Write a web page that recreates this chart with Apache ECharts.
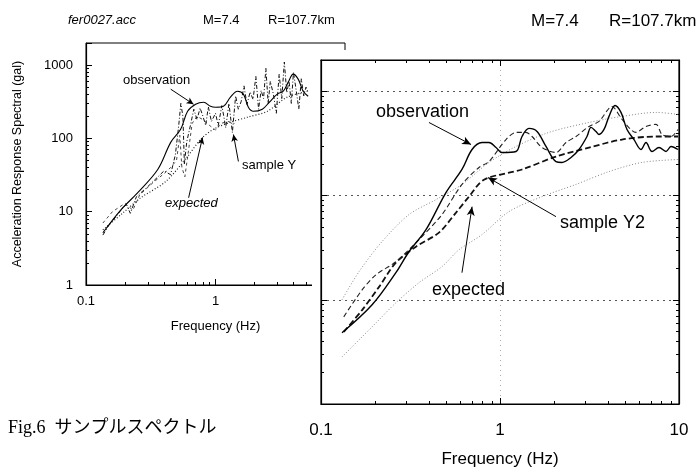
<!DOCTYPE html>
<html><head><meta charset="utf-8">
<script src="https://cdn.jsdelivr.net/npm/echarts/dist/echarts.min.js"></script>
<style>html,body{margin:0;padding:0;background:#fff}#c{width:698px;height:473px}</style>
</head><body><div id="c"></div>
<script>
// ---------------- DATA ----------------
// Left (small) panel: frequency (Hz) / spectral acceleration (gal)
const leftObsF = [0.135,0.186,0.251,0.358,0.451,0.538,0.609,0.702,0.809,0.915,1.0,1.152,1.304,1.477,1.642,1.794,1.960,2.299,2.603,2.999,3.336,3.644,3.981,4.351,4.753,5.194];
const leftObsV = [5.16,10.6,18.2,37.6,88.2,133,234,292,311,274,266,274,365,440,401,266,234,250,311,401,440,585,753,643,440,376];
const leftExpF = [0.135,0.186,0.265,0.413,0.609,0.767,0.965,1.304,1.763,2.512,3.580,5.194];
const leftExpV = [5.67,9.10,15.5,25.8,56.7,96.9,133,166,194,234,365,440];
const leftSampF = [0.135,0.15,0.17,0.19,0.205,0.22,0.245,0.30,0.36,0.40,0.45,0.49,0.52,0.54,0.56,0.575,0.60,0.64,0.68,0.72,0.76,0.80,0.84,0.88,0.93,1.00,1.05,1.12,1.20,1.27,1.35,1.43,1.50,1.58,1.66,1.75,1.85,1.95,2.05,2.15,2.25,2.35,2.45,2.55,2.65,2.80,2.95,3.10,3.25,3.40,3.55,3.70,3.85,4.00,4.20,4.40,4.60,4.80,5.00,5.20];
const leftSampV = [4.8,6.5,8.5,11,12.5,9.5,16,22,30,36,32,60,150,300,200,45,90,150,250,180,260,200,150,270,170,220,150,280,140,300,120,380,250,320,520,290,430,340,700,250,450,350,900,300,600,400,220,750,350,1100,420,600,300,800,450,250,650,380,500,420];
const leftSamp2F = [0.135,0.16,0.2,0.23,0.26,0.33,0.40,0.45,0.50,0.53,0.55,0.58,0.62,0.66,0.72,0.80,0.90,1.0,1.1,1.25,1.4];
const leftSamp2V = [7,10,13,10.5,17,25,33,40,50,110,40,30,70,160,200,180,150,130,160,170,160];

// Right (large) panel
const rObsF = [0.131,0.193,0.262,0.310,0.386,0.499,0.613,0.698,0.793,0.868,0.950,1.026,1.229,1.327,1.452,1.610,1.807,2.055,2.220,2.493,2.763,3.062,3.224,3.438,3.574,3.811,4.064,4.390,4.742,5.123,5.606,6.134,6.541,7.067,7.732,8.462,9.024,9.872];
const rObsV = [4.82,8.95,18.2,28.9,47.1,107,178,277,323,323,289,259,265,369,441,412,296,212,208,232,277,369,451,412,386,431,575,733,628,431,345,277,323,265,289,265,296,277];
const rUpF = [0.131,0.163,0.219,0.310,0.439,0.613,0.868,1.229,1.878,3.142,4.804,7.440,9.872];
const rUpV = [10.0,18.6,36.1,65.7,91.5,128,208,296,404,503,575,628,601];
const rLoF = [0.131,0.163,0.203,0.262,0.353,0.474,0.590,0.793,1.123,1.717,2.658,4.064,6.213,9.872];
const rLoV = [2.83,4.12,6.01,9.36,14.6,20.8,30.2,42.2,70.2,97.7,128,170,208,222];
const rExpF = [0.134,0.170,0.211,0.262,0.339,0.456,0.568,0.671,0.814,1.327,2.055,3.142,4.804,7.440,9.872];
const rExpV = [4.92,8.01,13.3,22.7,32.3,44.1,68.7,97.7,142,178,237,289,345,369,369];
const rSampF = [0.134,0.170,0.203,0.262,0.353,0.474,0.613,0.763,0.868,1.080,1.229,1.397,1.510,1.717,2.055,2.337,2.658,3.142,3.574,4.224,4.804,5.753,6.541,7.440,8.035,9.024,9.872];
const rSampV = [6.86,12.5,17.4,23.2,37.8,65.7,128,186,212,345,404,404,369,289,259,323,369,461,515,717,538,404,461,482,386,369,431];

// Annotation arrows (data coords: [from, to])
const arrowLeftObs = [[0.451,469],[0.677,292]];
const arrowLeftSamp = [[1.503,48.4],[1.375,113]];
const arrowLeftExp = [[0.620,15.5],[0.794,103]];
const arrowRightObs = [[0.401,503],[0.689,309]];
const arrowRightSamp = [[2.055,62.8],[0.857,149]];
const arrowRightExp = [[0.613,18.2],[0.698,78.3]];

const xTicks = [0.1, 1, 10];
const yTicks = [1, 10, 100, 1000];

// ---------------- CHART ----------------
const pts = (f, v) => f.map((x, i) => [x, v[i]]);
const SANS = "'Liberation Sans', Arial, sans-serif";
const fmt = v => { const l = Math.log10(v); return Math.abs(l - Math.round(l)) < 1e-6 ? String(Number(v.toPrecision(6))) : ''; };
function arrowML(a, sz, z) {
  return { silent: true, z: z, symbol: ['none', 'arrow'], symbolSize: sz, animation: false,
    label: { show: false }, lineStyle: { color: '#000', width: 1, type: 'solid' },
    emphasis: { disabled: true },
    data: [[{ coord: a[0] }, { coord: a[1] }]] };
}
const chart = echarts.init(document.getElementById('c'), null, { renderer: 'canvas' });
const axBase = (extra) => Object.assign({
  type: 'log', logBase: 10,
  axisLine: { show: true, lineStyle: { color: '#000', width: 1.2 } },
  axisTick: { show: true, inside: true, length: 6, lineStyle: { color: '#000' } },
  minorTick: { show: true, splitNumber: 9, length: 3, lineStyle: { color: '#000' } },
  splitLine: { show: false },
  axisLabel: { show: false }
}, extra);

chart.setOption({
  animation: false,
  backgroundColor: '#fff',
  grid: [
    { left: 86, top: 43, width: 259, height: 242, show: true, borderColor: '#000', borderWidth: 1, backgroundColor: 'transparent', z: 0 },
    { left: 321, top: 60, width: 358, height: 344, show: true, borderColor: '#000', borderWidth: 1.2, backgroundColor: 'transparent', z: 50 }
  ],
  xAxis: [
    axBase({ gridIndex: 0, min: 0.1, max: 10, position: 'bottom',
      axisLabel: { show: true, fontSize: 13, color: '#000', fontFamily: SANS, margin: 10, formatter: fmt },
      name: 'Frequency (Hz)', nameLocation: 'middle', nameGap: 35,
      nameTextStyle: { fontSize: 13, color: '#000', fontFamily: SANS } }),
    axBase({ gridIndex: 1, min: 0.1, max: 10, position: 'bottom', z: 50,
      axisLabel: { show: true, fontSize: 17, color: '#000', fontFamily: SANS, margin: 18, formatter: fmt },
      splitLine: { show: true, lineStyle: { color: '#aaa', type: [1, 4], width: 1 } },
      name: 'Frequency (Hz)', nameLocation: 'middle', nameGap: 47,
      nameTextStyle: { fontSize: 17, color: '#000', fontFamily: SANS } }),
    axBase({ gridIndex: 1, min: 0.1, max: 10, position: 'top', z: 50 })
  ],
  yAxis: [
    axBase({ gridIndex: 0, min: 1, max: 2000, position: 'left',
      axisLabel: { show: true, fontSize: 13, color: '#000', fontFamily: SANS, margin: 13, formatter: fmt, showMaxLabel: false },
      name: 'Acceleration Response Spectral (gal)', nameLocation: 'middle', nameGap: 62,
      nameTextStyle: { fontSize: 12.5, color: '#000', fontFamily: SANS } }),
    axBase({ gridIndex: 1, min: 1, max: 2000, position: 'left', z: 50,
      splitLine: { show: true, lineStyle: { color: '#555', type: [2, 4], width: 1 } } }),
    axBase({ gridIndex: 1, min: 1, max: 2000, position: 'right', z: 50 })
  ],
  series: [
    // left panel
    { type: 'line', xAxisIndex: 0, yAxisIndex: 0, data: pts(leftSamp2F, leftSamp2V), showSymbol: false, z: 2,
      lineStyle: { color: '#333', width: 0.9, type: [3, 3] } },
    { type: 'line', xAxisIndex: 0, yAxisIndex: 0, data: pts(leftSampF, leftSampV), showSymbol: false, z: 2,
      lineStyle: { color: '#111', width: 1, type: [4, 2, 1, 2] }, markLine: arrowML(arrowLeftSamp, [5, 7], 5) },
    { type: 'line', xAxisIndex: 0, yAxisIndex: 0, data: pts(leftExpF, leftExpV), showSymbol: false, smooth: 0.3, z: 2,
      lineStyle: { color: '#222', width: 1.2, type: [1, 2] }, markLine: arrowML(arrowLeftExp, [5, 7], 5) },
    { type: 'line', xAxisIndex: 0, yAxisIndex: 0, data: pts(leftObsF, leftObsV), showSymbol: false, smooth: 0.35, z: 3,
      lineStyle: { color: '#000', width: 1.1 }, markLine: arrowML(arrowLeftObs, [5, 7], 5) },
    // right panel
    { type: 'line', xAxisIndex: 1, yAxisIndex: 1, data: pts(rUpF, rUpV), showSymbol: false, smooth: 0.3, z: 60,
      lineStyle: { color: '#888', width: 1, type: [1, 2] } },
    { type: 'line', xAxisIndex: 1, yAxisIndex: 1, data: pts(rLoF, rLoV), showSymbol: false, smooth: 0.3, z: 60,
      lineStyle: { color: '#888', width: 1, type: [1, 2] } },
    { type: 'line', xAxisIndex: 1, yAxisIndex: 1, data: pts(rExpF, rExpV), showSymbol: false, smooth: 0.3, z: 61,
      lineStyle: { color: '#111', width: 1.8, type: [6, 3] }, markLine: arrowML(arrowRightExp, [6, 9], 70) },
    { type: 'line', xAxisIndex: 1, yAxisIndex: 1, data: pts(rSampF, rSampV), showSymbol: false, smooth: 0.3, z: 61,
      lineStyle: { color: '#222', width: 1.1, type: [5, 3] }, markLine: arrowML(arrowRightSamp, [6, 9], 70) },
    { type: 'line', xAxisIndex: 1, yAxisIndex: 1, data: pts(rObsF, rObsV), showSymbol: false, smooth: 0.35, z: 62,
      lineStyle: { color: '#000', width: 1.4 }, markLine: arrowML(arrowRightObs, [6, 9], 70) }
  ],
  graphic: [
    { type: 'rect', z: 40, silent: true, shape: { x: 312, y: 50, width: 386, height: 423 }, style: { fill: '#fff' } },
    { type: 'text', z: 100, x: 68, y: 20, style: { text: 'fer0027.acc', font: `italic 13px ${SANS}`, fill: '#000', textVerticalAlign: 'middle' } },
    { type: 'text', z: 100, x: 203, y: 20, style: { text: 'M=7.4', font: `13px ${SANS}`, fill: '#000', textVerticalAlign: 'middle' } },
    { type: 'text', z: 100, x: 268, y: 20, style: { text: 'R=107.7km', font: `13px ${SANS}`, fill: '#000', textVerticalAlign: 'middle' } },
    { type: 'text', z: 100, x: 531, y: 21, style: { text: 'M=7.4', font: `17px ${SANS}`, fill: '#000', textVerticalAlign: 'middle' } },
    { type: 'text', z: 100, x: 609, y: 21, style: { text: 'R=107.7km', font: `17px ${SANS}`, fill: '#000', textVerticalAlign: 'middle' } },
    { type: 'text', z: 100, x: 123, y: 80, style: { text: 'observation', font: `13px ${SANS}`, fill: '#000', textVerticalAlign: 'middle' } },
    { type: 'text', z: 100, x: 242, y: 165, style: { text: 'sample Y', font: `13px ${SANS}`, fill: '#000', textVerticalAlign: 'middle' } },
    { type: 'text', z: 100, x: 165, y: 203, style: { text: 'expected', font: `italic 13px ${SANS}`, fill: '#000', textVerticalAlign: 'middle' } },
    { type: 'text', z: 100, x: 376, y: 112, style: { text: 'observation', font: `18px ${SANS}`, fill: '#000', textVerticalAlign: 'middle' } },
    { type: 'text', z: 100, x: 560, y: 223, style: { text: 'sample Y2', font: `18px ${SANS}`, fill: '#000', textVerticalAlign: 'middle' } },
    { type: 'text', z: 100, x: 432, y: 290, style: { text: 'expected', font: `18px ${SANS}`, fill: '#000', textVerticalAlign: 'middle' } },
    { type: 'text', z: 100, x: 8, y: 428, style: { text: 'Fig.6  サンプルスペクトル', font: `18px 'Liberation Serif', 'Noto Sans CJK JP', serif`, fill: '#000', textVerticalAlign: 'middle' } }
  ]
});
</script></body></html>
